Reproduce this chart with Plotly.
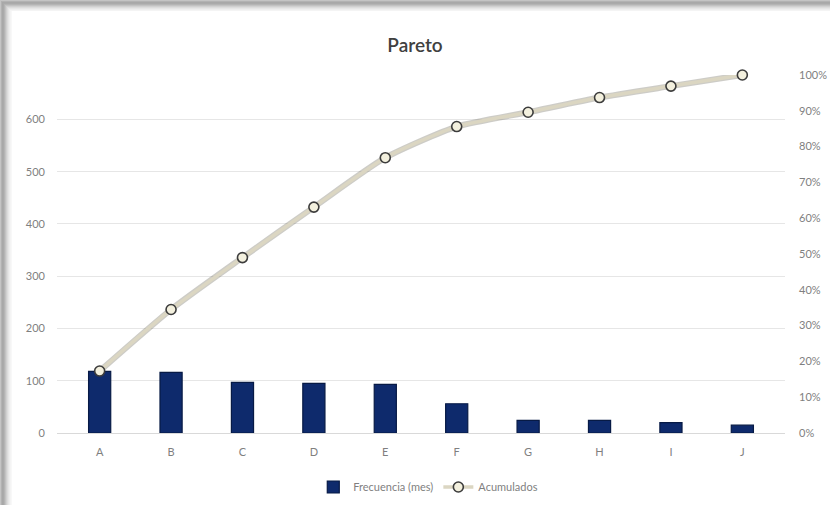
import plotly.graph_objects as go

categories = ["A", "B", "C", "D", "E", "F", "G", "H", "I", "J"]
frecuencia = [118, 116, 97, 95, 93, 56, 24, 24, 20, 15]
acumulados = [0.173, 0.345, 0.490, 0.631, 0.769, 0.856, 0.896, 0.937, 0.969, 1.0]
left_ticks = [0, 100, 200, 300, 400, 500, 600]
right_ticks = [0, 0.1, 0.2, 0.3, 0.4, 0.5, 0.6, 0.7, 0.8, 0.9, 1.0]
right_ticktext = ["0%", "10%", "20%", "30%", "40%", "50%", "60%", "70%", "80%", "90%", "100%"]

W, H = 830, 505
ML, MR, MT, MB = 57, 45, 75, 72
PW, PH = W - ML - MR, H - MT - MB

def px_x(p):
    return (p - ML) / PW

def px_y(p):
    return 1 - (p - MT) / PH

fig = go.Figure()

fig.add_trace(go.Bar(
    x=categories, y=frecuencia, name="Frecuencia (mes)",
    marker=dict(color="#0e2a6c", line=dict(color="#071a45", width=1.2)),
    yaxis="y",
))

# shadow of the line
fig.add_trace(go.Scatter(
    x=categories, y=acumulados, mode="lines", yaxis="y2",
    line=dict(color="rgba(100,95,80,0.32)", width=6, shape="spline", smoothing=0.6),
    showlegend=False, hoverinfo="skip",
))
fig.add_trace(go.Scatter(
    x=categories, y=acumulados, name="Acumulados", mode="lines+markers", yaxis="y2",
    line=dict(color="#dbd6c2", width=3.5, shape="spline", smoothing=0.6),
    marker=dict(size=10, color="#f3f0de", line=dict(color="#3c3c3c", width=1.6)),
    cliponaxis=False,
))

shapes = []
# frame shadow (top and left)
grays = ["#c4c4c4", "#b2b2b2", "#a8a8a8", "#aaaaaa", "#b4b4b4", "#c2c2c2", "#d0d0d0", "#dcdcdc", "#e6e6e6", "#eeeeee", "#f4f4f4"]
for i, c in enumerate(grays):
    shapes.append(dict(type="rect", xref="paper", yref="paper", layer="below",
                       x0=px_x(0), x1=px_x(W), y0=px_y(i), y1=px_y(i + 1),
                       fillcolor=c, line=dict(width=0)))
for i, c in enumerate(grays + ["#f8f8f8"]):
    shapes.append(dict(type="rect", xref="paper", yref="paper", layer="below",
                       x0=px_x(i), x1=px_x(i + 1), y0=px_y(H), y1=px_y(min(i, 11)),
                       fillcolor=c, line=dict(width=0)))

fig.update_layout(
    width=W, height=H,
    margin=dict(l=ML, r=MR, t=MT, b=MB, autoexpand=False),
    paper_bgcolor="white", plot_bgcolor="white",
    font=dict(family="Lato, Open Sans, sans-serif", color="#7f7f7f", size=11),
    title=dict(text="Pareto", x=0.5, xanchor="center", y=1 - 45 / H, yanchor="middle",
               font=dict(size=19, color="#404040", family="Lato, sans-serif", weight=600)),
    bargap=0.69,
    xaxis=dict(type="category", showgrid=False, showline=True, linecolor="#d9d9d9",
               ticks="", tickfont=dict(size=11, color="#7f7f7f"), ticklabelstandoff=9,
               automargin=False),
    yaxis=dict(range=[0, 685], tickvals=left_ticks, showgrid=True, gridcolor="#e6e6e6",
               gridwidth=1, zeroline=False, showline=False, ticks="",
               tickfont=dict(size=11, color="#7f7f7f"), ticklabelstandoff=11, automargin=False),
    yaxis2=dict(range=[0, 1.0], overlaying="y", side="right", tickvals=right_ticks,
                ticktext=right_ticktext, showgrid=False, zeroline=False, showline=False,
                ticks="", tickfont=dict(size=11, color="#7f7f7f"), ticklabelstandoff=13,
                automargin=False),
    legend=dict(orientation="h", x=0.51, xanchor="center", y=px_y(487), yanchor="middle",
                font=dict(size=11, color="#7f7f7f"), bgcolor="rgba(0,0,0,0)",
                itemwidth=30, tracegroupgap=0),
    shapes=shapes,
    showlegend=True,
)

fig.write_html("out.html")
